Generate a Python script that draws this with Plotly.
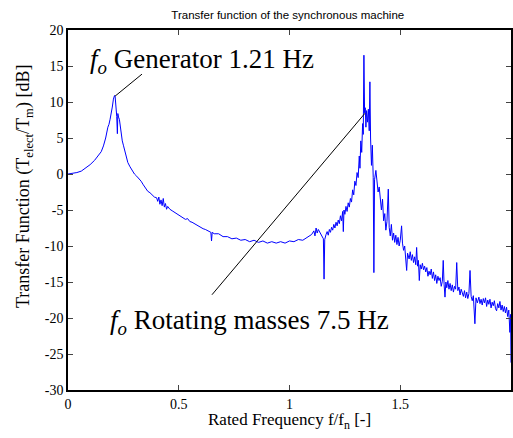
import plotly.graph_objects as go

freq = [0.00, 0.02, 0.04, 0.06, 0.08, 0.10, 0.12, 0.14, 0.15, 0.16, 0.17, 0.18, 0.185, 0.19, 0.195,
        0.20, 0.205, 0.21, 0.213, 0.217, 0.220, 0.223, 0.225, 0.228, 0.232, 0.236, 0.24, 0.245, 0.25,
        0.26, 0.27, 0.28, 0.29, 0.30, 0.31, 0.32, 0.33, 0.34, 0.35, 0.36, 0.37, 0.38, 0.39, 0.40,
        0.405, 0.41, 0.415, 0.42, 0.425, 0.43, 0.435, 0.44, 0.445, 0.45, 0.455, 0.46, 0.47, 0.48,
        0.49, 0.50, 0.51, 0.52, 0.53, 0.54, 0.55, 0.56, 0.57, 0.58, 0.59, 0.60, 0.61, 0.62, 0.63,
        0.64, 0.645, 0.648, 0.651, 0.66, 0.68, 0.70, 0.72, 0.74, 0.76, 0.78, 0.80, 0.82, 0.84, 0.86,
        0.88, 0.90, 0.92, 0.94, 0.96, 0.98, 1.00, 1.02, 1.04, 1.06, 1.08, 1.09, 1.10, 1.11, 1.115,
        1.12, 1.125, 1.13, 1.14, 1.15, 1.153, 1.156, 1.159, 1.165, 1.17, 1.175, 1.18, 1.185, 1.19,
        1.195, 1.20, 1.205, 1.21, 1.215, 1.22, 1.225, 1.23, 1.235, 1.24, 1.243, 1.246, 1.25, 1.255,
        1.26, 1.265, 1.27, 1.275, 1.28, 1.285, 1.29, 1.295, 1.30, 1.305, 1.31, 1.315, 1.318, 1.322,
        1.326, 1.33, 1.333, 1.336, 1.339, 1.342, 1.345, 1.348, 1.352, 1.356, 1.36, 1.363, 1.366,
        1.37, 1.374, 1.378, 1.381, 1.384, 1.39, 1.395, 1.40, 1.405, 1.41, 1.415, 1.42, 1.425, 1.43,
        1.435, 1.44, 1.446, 1.45, 1.455, 1.46, 1.465, 1.47, 1.475, 1.48, 1.485, 1.49, 1.495, 1.50,
        1.506, 1.51, 1.515, 1.52, 1.525, 1.529, 1.533, 1.54, 1.545, 1.55, 1.555, 1.56, 1.565, 1.57,
        1.574, 1.578, 1.582, 1.586, 1.59, 1.595, 1.60, 1.605, 1.61, 1.615, 1.62, 1.625, 1.63, 1.635,
        1.64, 1.645, 1.65, 1.655, 1.66, 1.665, 1.67, 1.675, 1.68, 1.685, 1.69, 1.694, 1.698, 1.702,
        1.706, 1.71, 1.715, 1.72, 1.725, 1.73, 1.735, 1.74, 1.745, 1.75, 1.755, 1.76, 1.765, 1.77,
        1.775, 1.78, 1.785, 1.79, 1.795, 1.80, 1.805, 1.81, 1.815, 1.82, 1.825, 1.83, 1.837, 1.842,
        1.848, 1.855, 1.86, 1.865, 1.87, 1.875, 1.88, 1.885, 1.89, 1.895, 1.90, 1.905, 1.91, 1.915,
        1.92, 1.925, 1.93, 1.935, 1.94, 1.945, 1.95, 1.955, 1.96, 1.965, 1.97, 1.975, 1.98, 1.985,
        1.99, 1.995, 1.998, 2.00]

tf_db = [0.0, 0.05, 0.2, 0.4, 0.8, 1.3, 1.9, 2.8, 3.1, 3.9, 5.0, 6.5, 6.9, 7.6, 8.3,
         9.3, 10.4, 10.9, 10.7, 9.6, 8.0, 5.6, 8.4, 7.9, 7.6, 6.5, 5.4, 4.6, 4.0,
         2.8, 1.6, 1.0, 0.4, 0.0, -0.3, -0.6, -1.0, -1.5, -2.0, -2.4, -2.6, -2.9, -3.2, -3.3,
         -3.8, -3.2, -4.2, -3.6, -4.4, -3.4, -4.6, -4.1, -4.9, -4.5, -4.8, -4.9, -5.1, -5.3,
         -5.6, -5.8, -6.0, -6.1, -6.3, -6.2, -6.6, -6.7, -6.9, -7.0, -7.2, -7.5, -7.6, -7.7, -7.9,
         -8.0, -8.1, -9.3, -8.1, -8.3, -8.3, -8.7, -8.7, -9.0, -8.9, -9.2, -9.1, -9.4, -9.2, -9.5,
         -9.3, -9.6, -9.4, -9.6, -9.4, -9.6, -9.3, -9.4, -9.1, -9.2, -8.8, -8.7, -8.4, -7.9, -8.6,
         -7.5, -8.2, -7.7, -8.3, -8.8, -9.0, -14.6, -9.1, -8.4, -8.0, -8.5, -7.7, -8.1, -7.4,
         -7.8, -7.0, -7.5, -6.7, -7.2, -6.4, -6.9, -5.8, -6.5, -5.2, -8.0, -5.0, -5.6, -4.5,
         -5.2, -4.0, -4.6, -3.4, -3.9, -2.2, -2.9, -1.0, -1.6, 0.2, -0.5, 2.5, 0.8, 4.6,
         3.0, 7.0, 5.5, 16.5, 8.5, 9.2, 6.5, 8.8, 7.2, 9.0, 6.0, 12.8, 5.0,
         1.2, 4.0, -0.5, -13.7, -0.8, 0.5, -1.0, -2.5, -1.8, -3.8, -5.0, -3.5, -6.5, -5.5,
         -7.8, -6.6, -2.1, -7.4, -8.6, -7.0, -9.2, -8.2, -9.5, -8.5, -9.8, -8.8, -10.0, -9.2,
         -7.2, -9.6, -10.6, -10.0, -11.5, -13.4, -11.0, -11.8, -10.8, -12.0, -11.2, -12.3, -11.5, -12.6,
         -10.2, -12.8, -12.0, -14.8, -12.6, -13.2, -12.4, -13.3, -12.8, -13.6, -13.0, -14.2, -13.5, -14.0,
         -13.2, -14.5, -13.6, -14.8, -14.0, -15.2, -14.2, -14.8, -14.4, -15.6, -14.9, -12.0, -15.4, -17.1,
         -15.0, -15.8, -14.8, -16.0, -15.2, -16.2, -15.4, -16.4, -15.6, -16.0, -12.3, -16.2, -15.7, -16.8,
         -16.0, -16.6, -17.0, -16.2, -17.2, -16.4, -17.3, -16.6, -13.4, -17.0, -17.6, -16.9, -20.8, -17.2,
         -17.9, -17.1, -18.0, -17.4, -18.2, -17.3, -17.9, -17.2, -18.4, -17.5, -18.1, -17.4, -18.6, -17.8,
         -18.3, -17.6, -18.7, -19.0, -18.0, -18.6, -17.7, -18.9, -18.2, -19.1, -18.4, -19.3, -18.5, -19.8,
         -18.9, -22.0, -19.5, -26.2]

x_ticks = [0, 0.5, 1, 1.5, 2]
x_tick_labels = ["0", "0.5", "1", "1.5", "2"]
y_ticks = [-30, -25, -20, -15, -10, -5, 0, 5, 10, 15, 20]
y_tick_labels = ["-30", "-25", "-20", "-15", "-10", "-5", "0", "5", "10", "15", "20"]

# annotation leader lines (data coordinates) and labels
gen_line_x = [0.212, 0.334]
gen_line_y = [10.8, 13.87]
rot_line_x = [0.650, 1.341]
rot_line_y = [-16.77, 8.44]
gen_label = "<i>f<sub>o</sub></i> Generator 1.21 Hz"
rot_label = "<i>f<sub>o</sub></i> Rotating masses 7.5 Hz"

serif = "Liberation Serif, Times New Roman, serif"

fig = go.Figure()
fig.add_trace(go.Scatter(x=freq, y=tf_db, mode="lines",
                         line=dict(color="#0000ff", width=1), showlegend=False))
fig.add_trace(go.Scatter(x=gen_line_x, y=gen_line_y, mode="lines",
                         line=dict(color="black", width=1), showlegend=False))
fig.add_trace(go.Scatter(x=rot_line_x, y=rot_line_y, mode="lines",
                         line=dict(color="black", width=1), showlegend=False))

fig.add_annotation(x=0.09, y=15.7, xref="x", yref="y", text=gen_label, showarrow=False,
                   xanchor="left", yanchor="middle", font=dict(family=serif, size=27, color="black"))
fig.add_annotation(x=0.18, y=-20.6, xref="x", yref="y", text=rot_label, showarrow=False,
                   xanchor="left", yanchor="middle", font=dict(family=serif, size=27, color="black"))

fig.add_annotation(x=0.5, y=-0.085, xref="paper", yref="paper",
                   text="Rated Frequency f/f<sub>n</sub> [-]", showarrow=False,
                   xanchor="center", yanchor="middle", font=dict(family=serif, size=17, color="black"))
fig.add_annotation(x=-0.097, y=0.564, xref="paper", yref="paper",
                   text="Transfer Function (T<sub>elect</sub>/T<sub>m</sub>) [dB]", showarrow=False,
                   textangle=-90, xanchor="center", yanchor="middle",
                   font=dict(family=serif, size=18, color="black"))

fig.update_layout(
    width=513, height=438,
    margin=dict(l=68, r=2, t=30, b=48, autoexpand=False),
    paper_bgcolor="white", plot_bgcolor="white",
    title=dict(text="Transfer function of the synchronous machine", x=0.561, xanchor="center",
               y=0.966, yanchor="middle",
               font=dict(family="Liberation Sans, Arial, sans-serif", size=11.5, color="black")),
    xaxis=dict(range=[0, 2], tickvals=x_ticks, ticktext=x_tick_labels, ticks="inside", ticklen=5,
               showline=True, linecolor="black", linewidth=1.5, mirror="ticks", showgrid=False,
               zeroline=False, automargin=False, tickfont=dict(family=serif, size=14, color="black")),
    yaxis=dict(range=[-30, 20], tickvals=y_ticks, ticktext=y_tick_labels, ticks="inside", ticklen=5,
               showline=True, linecolor="black", linewidth=1.5, mirror="ticks", showgrid=False,
               zeroline=False, automargin=False, tickfont=dict(family=serif, size=14, color="black")),
)

fig.write_html("out.html", config={"displayModeBar": False},
               post_script="document.body.style.margin='0';document.body.style.overflow='hidden';")
